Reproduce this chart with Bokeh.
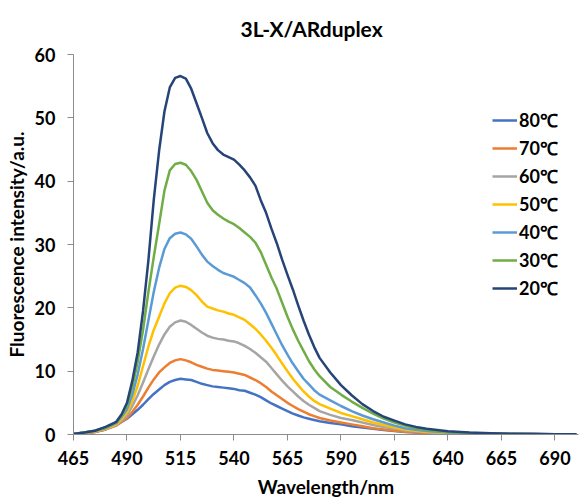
from bokeh.plotting import figure
from bokeh.models import Range1d, FixedTicker, Legend, LegendItem
from bokeh.embed import file_html
from bokeh.resources import INLINE

wavelength = [465, 470, 475, 480, 485, 487.5,
              490, 492.5, 495, 497.5, 500, 502.5, 505, 507.5, 510, 512.5,
              515, 517.5, 520, 522.5, 525, 527.5, 530, 532.5, 535, 537.5,
              540, 542.5, 545, 547.5, 550, 552.5, 555, 557.5, 560, 562.5,
              565, 567.5, 570, 572.5, 575, 577.5, 580,
              585, 590, 595, 600, 605, 610, 615, 620, 625, 630,
              640, 650, 660, 670, 680, 690, 700]

t80 = [0.1, 0.2, 0.4, 0.8, 1.5, 2.0,
       2.5, 3.2, 3.9, 4.7, 5.6, 6.4, 7.1, 7.8, 8.3, 8.6,
       8.8, 8.7, 8.6, 8.3, 8.0, 7.8, 7.6, 7.5, 7.4, 7.3,
       7.2, 7.0, 6.9, 6.6, 6.3, 5.9, 5.4, 4.9, 4.5, 4.1,
       3.7, 3.3, 3.0, 2.7, 2.5, 2.3, 2.1,
       1.8, 1.6, 1.3, 1.1, 0.9, 0.7, 0.55, 0.4, 0.3, 0.22,
       0.13, 0.08, 0.05, 0.04, 0.03, 0.03, 0.02]
t70 = [0.1, 0.2, 0.4, 0.8, 1.4, 2.0,
       2.6, 3.6, 4.7, 6.0, 7.4, 8.7, 9.8, 10.6, 11.3, 11.7,
       11.9, 11.7, 11.4, 11.0, 10.7, 10.4, 10.2, 10.1, 10.0, 9.9,
       9.8, 9.6, 9.4, 9.0, 8.6, 8.1, 7.5, 6.8, 6.2, 5.6,
       5.0, 4.5, 4.0, 3.6, 3.2, 2.9, 2.6,
       2.2, 1.9, 1.6, 1.3, 1.0, 0.8, 0.6, 0.45, 0.35, 0.25,
       0.15, 0.1, 0.06, 0.04, 0.03, 0.03, 0.02]
t60 = [0.1, 0.2, 0.5, 0.9, 1.5, 2.2,
       3.0, 4.5, 6.2, 8.2, 10.3, 12.3, 14.2, 15.8, 17.0, 17.7,
       18.0, 17.8, 17.3, 16.7, 16.1, 15.6, 15.3, 15.1, 15.0, 14.8,
       14.7, 14.4, 14.0, 13.5, 12.9, 12.2, 11.5, 10.5, 9.5, 8.5,
       7.6, 6.8, 6.0, 5.3, 4.7, 4.2, 3.7,
       3.1, 2.6, 2.3, 1.9, 1.5, 1.2, 0.9, 0.65, 0.5, 0.35,
       0.2, 0.12, 0.08, 0.05, 0.04, 0.03, 0.03]
t50 = [0.1, 0.3, 0.5, 0.9, 1.6, 2.5,
       3.5, 5.3, 7.7, 10.8, 13.9, 16.5, 18.6, 20.7, 22.3, 23.2,
       23.5, 23.3, 22.8, 22.0, 21.0, 20.2, 19.9, 19.6, 19.4, 19.1,
       18.9, 18.5, 18.1, 17.4, 16.7, 15.8, 14.8, 13.7, 12.5, 11.2,
       10.0, 8.8, 7.8, 6.8, 6.0, 5.3, 4.8,
       4.1, 3.4, 2.9, 2.4, 1.9, 1.5, 1.1, 0.8, 0.6, 0.45,
       0.25, 0.15, 0.1, 0.06, 0.05, 0.04, 0.03]
t40 = [0.1, 0.3, 0.6, 1.0, 1.8, 2.8,
       4.0, 6.3, 9.5, 13.5, 18.0, 22.5, 26.3, 29.3, 31.0, 31.7,
       31.9, 31.6, 30.9, 29.7, 28.4, 27.3, 26.6, 26.0, 25.5, 25.2,
       24.9, 24.4, 23.9, 23.2, 22.0, 20.7, 19.2, 17.5, 15.8, 14.1,
       12.6, 11.2, 10.0, 8.8, 7.9, 7.0, 6.3,
       5.4, 4.5, 3.7, 3.0, 2.4, 1.9, 1.4, 1.0, 0.75, 0.55,
       0.3, 0.2, 0.1, 0.08, 0.05, 0.05, 0.04]
t30 = [0.1, 0.3, 0.6, 1.1, 1.9, 3.0,
       4.5, 7.5, 11.5, 16.5, 22.5, 28.0, 33.2, 38.5, 41.7, 42.7,
       42.9, 42.6, 41.6, 40.2, 38.4, 36.6, 35.4, 34.7, 34.1, 33.6,
       33.2, 32.6, 31.9, 31.2, 30.3, 28.8, 26.8, 24.8, 23.0, 20.8,
       18.6, 16.6, 14.8, 13.2, 11.6, 10.3, 9.2,
       7.5, 6.3, 5.2, 4.2, 3.3, 2.5, 1.9, 1.4, 1.0, 0.7,
       0.4, 0.25, 0.15, 0.1, 0.08, 0.05, 0.05]
t20 = [0.1, 0.3, 0.6, 1.2, 2.0, 3.2,
       5.0, 8.5, 13.0, 19.5, 27.5, 37.0, 44.8, 51.0, 54.8, 56.3,
       56.6, 56.2, 54.6, 52.3, 50.0, 47.6, 46.0, 44.9, 44.2, 43.8,
       43.4, 42.6, 41.7, 40.6, 39.3, 37.0, 35.0, 32.5, 30.2, 27.6,
       25.2, 22.9, 20.4, 18.0, 15.8, 13.8, 12.1,
       9.8, 7.8, 6.2, 4.8, 3.7, 2.8, 2.2, 1.6, 1.2, 0.9,
       0.5, 0.3, 0.2, 0.1, 0.1, 0.05, 0.05]

series_names = ["80℃", "70℃", "60℃", "50℃", "40℃", "30℃", "20℃"]
series_values = [t80, t70, t60, t50, t40, t30, t20]
series_colors = ["#4472C4", "#ED7D31", "#A5A5A5", "#FFC000", "#5B9BD5", "#70AD47", "#264478"]

x_ticks = [465, 490, 515, 540, 565, 590, 615, 640, 665, 690]
y_ticks = [0, 10, 20, 30, 40, 50, 60]

FONT = "Lato"

p = figure(width=580, height=500, output_backend="svg", toolbar_location=None,
           x_range=Range1d(465, 701), y_range=Range1d(0, 60),
           min_border_left=73, min_border_right=2, min_border_top=54, min_border_bottom=66)
p.outline_line_color = None
p.grid.grid_line_color = None
p.background_fill_color = "white"
p.border_fill_color = "white"

p.title.text = "3L-X/ARduplex"
p.title.align = "left"
p.title.vertical_align = "top"
p.title.offset = 167
p.title.standoff = 24
p.title.text_font = FONT
p.title.text_font_style = "bold"
p.title.text_font_size = "21px"
p.title.text_color = "#000000"

items = []
for name, vals, col in zip(series_names, series_values, series_colors):
    r = p.line(wavelength, vals, line_color=col, line_width=2.5, line_join="round")
    items.append(LegendItem(label=name, renderers=[r]))

for ax in (p.xaxis[0], p.yaxis[0]):
    ax.axis_line_color = "#8C8C8C"
    ax.major_tick_line_color = "#8C8C8C"
    ax.major_tick_in = 0
    ax.major_tick_out = 6
    ax.minor_tick_line_color = None
    ax.major_label_text_font = FONT
    ax.major_label_text_font_style = "bold"
    ax.major_label_text_font_size = "18px"
    ax.major_label_text_color = "#000000"
    ax.axis_label_text_font = FONT
    ax.axis_label_text_font_style = "bold"
    ax.axis_label_text_font_size = "19px"
    ax.axis_label_text_color = "#000000"

p.xaxis[0].ticker = FixedTicker(ticks=x_ticks)
p.yaxis[0].ticker = FixedTicker(ticks=y_ticks)
p.xaxis[0].axis_label = "Wavelength/nm"
p.yaxis[0].axis_label = "Fluorescence intensity/a.u."
p.xaxis[0].major_label_standoff = 10
p.yaxis[0].major_label_standoff = 12
p.xaxis[0].axis_label_standoff = 7
p.yaxis[0].axis_label_standoff = 4

legend = Legend(items=items, location=(419, 134), orientation="vertical",
                border_line_color=None, background_fill_alpha=0,
                padding=0, margin=0, spacing=4, glyph_width=25, glyph_height=20,
                label_height=20, label_standoff=2,
                label_text_font=FONT, label_text_font_style="bold",
                label_text_font_size="18px", label_text_color="#000000")
p.add_layout(legend, "center")

open("out.html", "w").write(file_html(p, INLINE))
